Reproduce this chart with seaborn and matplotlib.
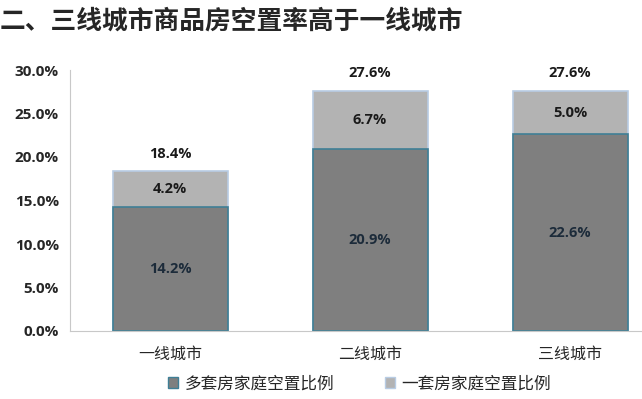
import seaborn as sns
import matplotlib.pyplot as plt
import pandas as pd
from matplotlib.patches import Patch

cities = ["一线城市", "二线城市", "三线城市"]
multi = [14.2, 20.9, 22.6]     # 多套房家庭空置比例
single = [4.2, 6.7, 5.0]       # 一套房家庭空置比例
totals = [18.4, 27.6, 27.6]

sns.set_style("white")
plt.rcParams['font.family'] = ['Noto Sans CJK SC', 'DejaVu Sans']

df = pd.DataFrame({"city": cities, "multi": multi, "single": single, "total": totals})

fig = plt.figure(figsize=(6.42, 3.99), dpi=100)
ax = fig.add_axes([70/642, 1-331/399, 600/642, 261/399])

dark = "#7f7f7f"
light = "#b3b3b3"
sns.barplot(data=df, x="city", y="total", color=light, width=0.575, saturation=1,
            edgecolor="#b8cce4", linewidth=1.2, ax=ax)
sns.barplot(data=df, x="city", y="multi", color=dark, width=0.575, saturation=1,
            edgecolor="#3f7f96", linewidth=1.2, ax=ax)

ax.set_ylim(0, 30)
ax.set_xlim(-0.5, 2.5)
ax.set_yticks([0, 5, 10, 15, 20, 25, 30])
ax.set_yticklabels([f"{v:.1f}%" for v in [0, 5, 10, 15, 20, 25, 30]],
                   fontsize=11, fontweight="bold", family=["Open Sans", "DejaVu Sans"])
ax.set_xticks(range(3))
ax.set_xticklabels(cities, fontsize=11.5)
ax.tick_params(axis="x", pad=11, length=0)
ax.tick_params(axis="y", pad=8, length=0)
ax.set_xlabel("")
ax.set_ylabel("")
for s in ["top", "right"]:
    ax.spines[s].set_visible(False)
ax.spines["left"].set_color("#c8c8c8")
ax.spines["bottom"].set_color("#c8c8c8")

lab = dict(ha="center", va="center", fontsize=10.5, fontweight="bold",
           family=["Open Sans", "DejaVu Sans"])
for i in range(3):
    ax.text(i, multi[i] / 2, f"{multi[i]:.1f}%", color="#1c2b3a", **lab)
    ax.text(i, multi[i] + single[i] / 2, f"{single[i]:.1f}%", color="#1a1a1a", **lab)
    ax.text(i, totals[i] + 2.0, f"{totals[i]:.1f}%", color="#1a1a1a", **lab)

fig.text(0.0, 0.948, "二、三线城市商品房空置率高于一线城市", fontsize=18.5, fontweight="bold",
         va="center", ha="left")

handles = [Patch(facecolor=dark, edgecolor="#3f7f96"), Patch(facecolor=light, edgecolor="#b8cce4")]
fig.legend(handles, ["多套房家庭空置比例", "一套房家庭空置比例"], loc="center",
           bbox_to_anchor=(0.56, 1-384/399), ncol=2, frameon=False, fontsize=12,
           handlelength=0.6, handleheight=0.6, handletextpad=0.4, columnspacing=3.0)

fig.savefig("out.png", dpi=100)
